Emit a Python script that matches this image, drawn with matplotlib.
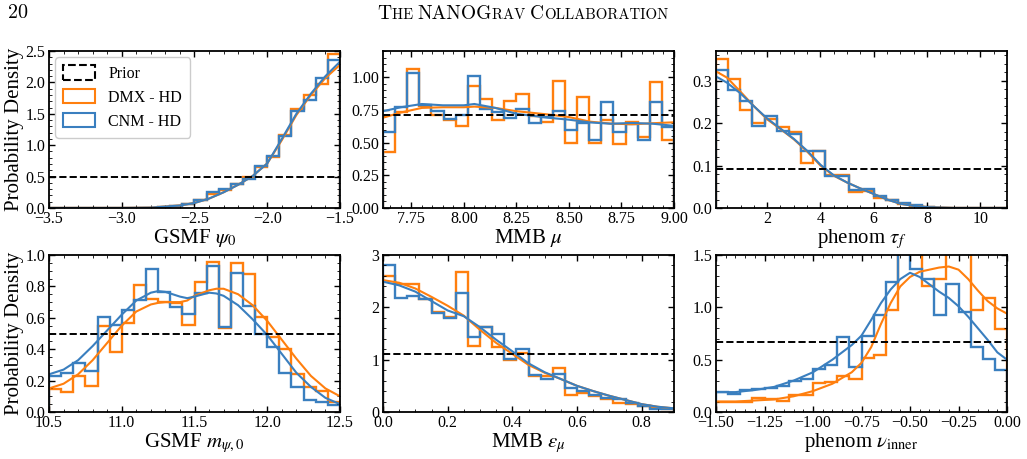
import numpy as np
import matplotlib
matplotlib.use("Agg")
import matplotlib.pyplot as plt
from matplotlib.patches import Patch
from matplotlib.ticker import MultipleLocator, FuncFormatter

# ---------------- data ----------------
# panel 1: GSMF psi_0 (24 bins over -3.5 .. -1.5)
psi0_range = (-3.5, -1.5)
psi0_hist_dmx = [0, 0, 0, 0, 0, 0, 0, 0.003, 0.006, 0.015, 0.03, 0.07, 0.12, 0.22, 0.28, 0.38,
                 0.50, 0.65, 0.82, 1.17, 1.57, 1.80, 1.98, 2.46]
psi0_hist_cnm = [0, 0, 0, 0, 0, 0, 0, 0.003, 0.006, 0.015, 0.03, 0.06, 0.13, 0.25, 0.30, 0.38,
                 0.46, 0.67, 0.83, 1.15, 1.55, 1.72, 2.07, 2.35]
psi0_kde_x = [-3.5, -3.25, -3.0, -2.8, -2.6, -2.5, -2.4, -2.3, -2.2, -2.1, -2.0, -1.9, -1.8, -1.7, -1.6, -1.5]
psi0_kde_dmx = [0, 0, 0.0, 0.005, 0.04, 0.08, 0.15, 0.25, 0.37, 0.51, 0.71, 1.08, 1.48, 1.80, 2.07, 2.28]
psi0_kde_cnm = [0, 0, 0.0, 0.005, 0.04, 0.08, 0.15, 0.25, 0.37, 0.51, 0.71, 1.10, 1.50, 1.82, 2.10, 2.33]

# panel 2: MMB mu (24 bins over 7.615 .. 9.0)
mu_range = (7.615, 9.0)
mu_hist_dmx = [0.43, 0.73, 1.06, 0.78, 0.71, 0.67, 0.63, 0.93, 0.83, 0.67, 0.82, 0.87, 0.70, 0.66,
               0.97, 0.50, 0.85, 0.50, 0.675, 0.49, 0.66, 0.54, 0.96, 0.52]
mu_hist_cnm = [0.58, 0.77, 1.03, 0.79, 0.74, 0.68, 0.71, 1.01, 0.76, 0.73, 0.69, 0.76, 0.65, 0.695,
               0.745, 0.60, 0.65, 0.52, 0.81, 0.58, 0.64, 0.52, 0.81, 0.62]
mu_kde_x = [7.615, 7.7, 7.8, 7.9, 8.0, 8.05, 8.15, 8.25, 8.4, 8.5, 8.6, 8.7, 8.8, 8.9, 9.0]
mu_kde_dmx = [0.69, 0.73, 0.765, 0.77, 0.77, 0.775, 0.765, 0.74, 0.715, 0.695, 0.66, 0.645, 0.64, 0.648, 0.655]
mu_kde_cnm = [0.74, 0.77, 0.795, 0.785, 0.785, 0.795, 0.765, 0.72, 0.69, 0.675, 0.654, 0.644, 0.65, 0.644, 0.628]

# panel 3: phenom tau_f (24 bins over 0.08 .. 11)
tau_range = (0.08, 11.0)
tau_hist_dmx = [0.350, 0.303, 0.231, 0.200, 0.210, 0.190, 0.179, 0.105, 0.134, 0.078, 0.078, 0.037,
                0.040, 0.024, 0.018, 0.010, 0.005, 0.002, 0.001, 0.0005, 0, 0, 0, 0]
tau_hist_cnm = [0.326, 0.279, 0.253, 0.194, 0.216, 0.182, 0.175, 0.134, 0.134, 0.075, 0.075, 0.042,
                0.044, 0.028, 0.018, 0.011, 0.006, 0.003, 0.001, 0.0005, 0, 0, 0, 0]
tau_kde_x = [0.08, 0.5, 1.0, 1.5, 2.0, 2.5, 3.0, 3.5, 4.0, 4.5, 5.0, 5.5, 6.0, 6.5, 7.0, 7.5, 8.0, 9.0, 11.0]
tau_kde_dmx = [0.322, 0.307, 0.274, 0.240, 0.209, 0.186, 0.162, 0.133, 0.100, 0.076, 0.060, 0.046,
               0.033, 0.020, 0.010, 0.005, 0.002, 0.0, 0.0]
tau_kde_cnm = [0.310, 0.295, 0.270, 0.240, 0.211, 0.187, 0.163, 0.135, 0.102, 0.077, 0.060, 0.046,
               0.033, 0.020, 0.010, 0.005, 0.002, 0.0, 0.0]

# panel 4: GSMF m_psi,0 (24 bins over 10.5 .. 12.5)
m_range = (10.5, 12.5)
m_hist_dmx = [0.146, 0.125, 0.227, 0.167, 0.549, 0.379, 0.566, 0.809, 0.718, 0.703, 0.697, 0.555,
              0.830, 0.958, 0.534, 0.947, 0.879, 0.604, 0.477, 0.403, 0.242, 0.157, 0.131, 0.061]
m_hist_cnm = [0.231, 0.248, 0.311, 0.263, 0.604, 0.555, 0.650, 0.714, 0.909, 0.767, 0.667, 0.625,
              0.761, 0.930, 0.544, 0.883, 0.676, 0.496, 0.413, 0.248, 0.159, 0.074, 0.061, 0.047]
m_kde_x = [10.5, 10.6, 10.7, 10.8, 10.9, 11.0, 11.1, 11.2, 11.25, 11.3, 11.4, 11.45, 11.5, 11.6, 11.65,
           11.7, 11.8, 11.9, 12.0, 12.1, 12.2, 12.3, 12.4, 12.5]
m_kde_dmx = [0.15, 0.18, 0.24, 0.33, 0.44, 0.55, 0.64, 0.685, 0.695, 0.70, 0.70, 0.71, 0.74, 0.775, 0.785,
             0.785, 0.75, 0.68, 0.58, 0.46, 0.34, 0.23, 0.15, 0.10]
m_kde_cnm = [0.24, 0.27, 0.33, 0.42, 0.52, 0.62, 0.71, 0.76, 0.77, 0.765, 0.735, 0.725, 0.735, 0.76, 0.755,
             0.74, 0.68, 0.59, 0.49, 0.37, 0.25, 0.16, 0.09, 0.05]

# panel 5: MMB eps_mu (24 bins over 0 .. 0.9)
eps_range = (0.0, 0.9)
eps_hist_dmx = [2.59, 2.44, 2.45, 2.16, 1.92, 1.81, 2.68, 1.27, 1.62, 1.25, 0.99, 1.13, 0.69, 0.68,
                0.84, 0.33, 0.36, 0.31, 0.24, 0.18, 0.16, 0.11, 0.08, 0.06]
eps_hist_cnm = [2.80, 2.18, 2.21, 2.16, 1.89, 1.80, 2.28, 1.43, 1.63, 1.49, 1.01, 1.20, 0.71, 0.63,
                0.73, 0.46, 0.41, 0.33, 0.27, 0.25, 0.17, 0.11, 0.06, 0.06]
eps_kde_x = [0.0, 0.05, 0.1, 0.15, 0.2, 0.25, 0.3, 0.35, 0.4, 0.45, 0.5, 0.55, 0.6, 0.65, 0.7, 0.75,
             0.8, 0.85, 0.9]
eps_kde_dmx = [2.52, 2.47, 2.36, 2.20, 2.03, 1.84, 1.57, 1.32, 1.11, 0.90, 0.75, 0.63, 0.50, 0.40,
               0.31, 0.23, 0.15, 0.10, 0.07]
eps_kde_cnm = [2.49, 2.42, 2.30, 2.12, 1.94, 1.83, 1.62, 1.38, 1.16, 0.93, 0.76, 0.63, 0.50, 0.40,
               0.31, 0.23, 0.15, 0.10, 0.07]

# panel 6: phenom nu_inner (24 bins over -1.5 .. 0)
nu_range = (-1.5, 0.0)
nu_hist_dmx = [0.092, 0.092, 0.095, 0.133, 0.127, 0.108, 0.159, 0.165, 0.276, 0.29, 0.34, 0.315,
               0.52, 0.54, 0.975, 1.55, 1.6, 1.20, 1.27, 1.6, 1.55, 0.97, 1.09, 0.79]
nu_hist_cnm = [0.19, 0.175, 0.21, 0.22, 0.23, 0.245, 0.30, 0.315, 0.41, 0.45, 0.72, 0.43, 0.73, 0.93,
               1.24, 1.58, 1.37, 1.27, 0.93, 1.22, 0.96, 0.625, 0.51, 0.40]
nu_kde_x = [-1.5, -1.4, -1.3, -1.2, -1.1, -1.0, -0.9, -0.8, -0.75, -0.7, -0.65, -0.6, -0.55, -0.5,
            -0.45, -0.4, -0.35, -0.3, -0.25, -0.2, -0.15, -0.1, -0.05, 0.0]
nu_kde_dmx = [0.10, 0.10, 0.11, 0.12, 0.15, 0.20, 0.27, 0.38, 0.47, 0.62, 0.84, 1.04, 1.20, 1.29,
              1.34, 1.36, 1.38, 1.39, 1.36, 1.27, 1.16, 1.06, 0.99, 0.94]
nu_kde_cnm = [0.19, 0.19, 0.21, 0.24, 0.30, 0.38, 0.50, 0.64, 0.73, 0.88, 1.04, 1.17, 1.27, 1.33,
              1.29, 1.22, 1.15, 1.09, 1.01, 0.91, 0.80, 0.69, 0.57, 0.50]

prior_density = [0.5, 0.714, 0.0917, 0.5, 1.111, 0.667]
xlabels = [r"GSMF $\psi_0$", r"MMB $\mu$", r"phenom $\tau_f$",
           r"GSMF $m_{\psi,0}$", r"MMB $\varepsilon_\mu$", r"phenom $\nu_{\mathrm{inner}}$"]
legend_labels = ["Prior", "DMX - HD", "CNM - HD"]

# ---------------- style ----------------
plt.rcParams.update({
    "font.family": ["Liberation Serif", "DejaVu Serif"],
    "mathtext.fontset": "stix",
    "xtick.direction": "in", "ytick.direction": "in",
    "xtick.top": True, "ytick.right": True,
    "xtick.major.size": 4.5, "ytick.major.size": 4.5,
    "xtick.minor.size": 2.5, "ytick.minor.size": 2.5,
    "xtick.major.width": 1.0, "ytick.major.width": 1.0,
    "xtick.labelsize": 11.5, "ytick.labelsize": 11.5,
    "axes.linewidth": 1.3,
    "xtick.major.pad": 2.5, "ytick.major.pad": 2.5,
})

C_DMX = "#ff7f0e"
C_CNM = "#3a7fbf"

W, H = 1027, 459
fig = plt.figure(figsize=(W / 100, H / 100), dpi=100)


def make_fmt(fmt):
    def f(v, pos):
        if abs(v) < 1e-12:
            v = 0.0
        if fmt == "%d":
            s = "%d" % int(round(v))
        else:
            s = fmt % v
        return s.replace("-", "\u2212")
    return FuncFormatter(f)


panels = [
    dict(rng=psi0_range, hd=psi0_hist_dmx, hc=psi0_hist_cnm, kx=psi0_kde_x, kd=psi0_kde_dmx, kc=psi0_kde_cnm,
         xlim=(-3.5, -1.5), ylim=(0, 2.5), xmaj=0.5, xmin=0.1, ymaj=0.5, ymin=0.1, yfmt="%.1f", xfmt="%.1f"),
    dict(rng=mu_range, hd=mu_hist_dmx, hc=mu_hist_cnm, kx=mu_kde_x, kd=mu_kde_dmx, kc=mu_kde_cnm,
         xlim=(7.615, 9.0), ylim=(0, 1.2), xmaj=0.25, xmin=0.05, ymaj=0.25, ymin=0.05, yfmt="%.2f", xfmt="%.2f"),
    dict(rng=tau_range, hd=tau_hist_dmx, hc=tau_hist_cnm, kx=tau_kde_x, kd=tau_kde_dmx, kc=tau_kde_cnm,
         xlim=(0.08, 11.0), ylim=(0, 0.37), xmaj=2, xmin=0.5, ymaj=0.1, ymin=0.02, yfmt="%.1f", xfmt="%d"),
    dict(rng=m_range, hd=m_hist_dmx, hc=m_hist_cnm, kx=m_kde_x, kd=m_kde_dmx, kc=m_kde_cnm,
         xlim=(10.5, 12.5), ylim=(0, 1.0), xmaj=0.5, xmin=0.1, ymaj=0.2, ymin=0.05, yfmt="%.1f", xfmt="%.1f"),
    dict(rng=eps_range, hd=eps_hist_dmx, hc=eps_hist_cnm, kx=eps_kde_x, kd=eps_kde_dmx, kc=eps_kde_cnm,
         xlim=(0.0, 0.9), ylim=(0, 3.0), xmaj=0.2, xmin=0.05, ymaj=1, ymin=0.2, yfmt="%d", xfmt="%.1f"),
    dict(rng=nu_range, hd=nu_hist_dmx, hc=nu_hist_cnm, kx=nu_kde_x, kd=nu_kde_dmx, kc=nu_kde_cnm,
         xlim=(-1.5, 0.0), ylim=(0, 1.5), xmaj=0.25, xmin=0.05, ymaj=0.5, ymin=0.1, yfmt="%.1f", xfmt="%.2f"),
]

lefts = [49, 383, 716]
tops = [51, 255]
aw, ah = 291, 157

for i, p in enumerate(panels):
    r, c = divmod(i, 3)
    ax = fig.add_axes([lefts[c] / W, 1 - (tops[r] + ah) / H, aw / W, ah / H])
    edges = np.linspace(p["rng"][0], p["rng"][1], len(p["hd"]) + 1)
    ax.stairs(p["hd"], edges, color=C_DMX, lw=1.7, baseline=0)
    ax.stairs(p["hc"], edges, color=C_CNM, lw=1.7, baseline=0)
    ax.plot(p["kx"], p["kd"], color=C_DMX, lw=1.5)
    ax.plot(p["kx"], p["kc"], color=C_CNM, lw=1.5)
    ax.axhline(prior_density[i], color="black", ls="--", lw=1.4)
    ax.set_xlim(*p["xlim"])
    ax.set_ylim(*p["ylim"])
    ax.xaxis.set_major_locator(MultipleLocator(p["xmaj"]))
    ax.xaxis.set_minor_locator(MultipleLocator(p["xmin"]))
    ax.yaxis.set_major_locator(MultipleLocator(p["ymaj"]))
    ax.yaxis.set_minor_locator(MultipleLocator(p["ymin"]))
    ax.yaxis.set_major_formatter(make_fmt(p["yfmt"]))
    ax.xaxis.set_major_formatter(make_fmt(p["xfmt"]))
    ax.set_xlabel(xlabels[i], fontsize=15, labelpad=-0.5)
    if c == 0:
        ax.set_ylabel("Probability Density", fontsize=15, labelpad=1)
    if i == 0:
        handles = [Patch(facecolor="none", edgecolor="black", ls="--", lw=1.5),
                   Patch(facecolor="none", edgecolor=C_DMX, lw=1.5),
                   Patch(facecolor="none", edgecolor=C_CNM, lw=1.5)]
        ax.legend(handles, legend_labels, loc="upper left", fontsize=11.5, frameon=True,
                  fancybox=True, edgecolor="#cccccc", framealpha=1, borderpad=0.5,
                  handlelength=2.0, handleheight=1.0, labelspacing=0.45, borderaxespad=0.4)

# ---------------- header ----------------
fig.text(8 / W, 1 - 13 / H, "20", fontsize=14.5, family="cmr10", va="center", ha="left")
pieces = [("T", 14), ("HE ", 10.7), ("NANOG", 14), ("RAV ", 10.7), ("C", 14), ("OLLABORATION", 10.7)]
renderer = fig.canvas.get_renderer()
texts = []
x = 0.0
for s, fs in pieces:
    t = fig.text(0, 1 - 19 / H, s, fontsize=fs, family="cmr10", va="baseline", ha="left")
    wpx = t.get_window_extent(renderer).width
    texts.append((t, x))
    x += wpx
total = x
x0 = 523 - total / 2
for t, off in texts:
    t.set_x((x0 + off) / W)

fig.savefig("out.png", dpi=100)
